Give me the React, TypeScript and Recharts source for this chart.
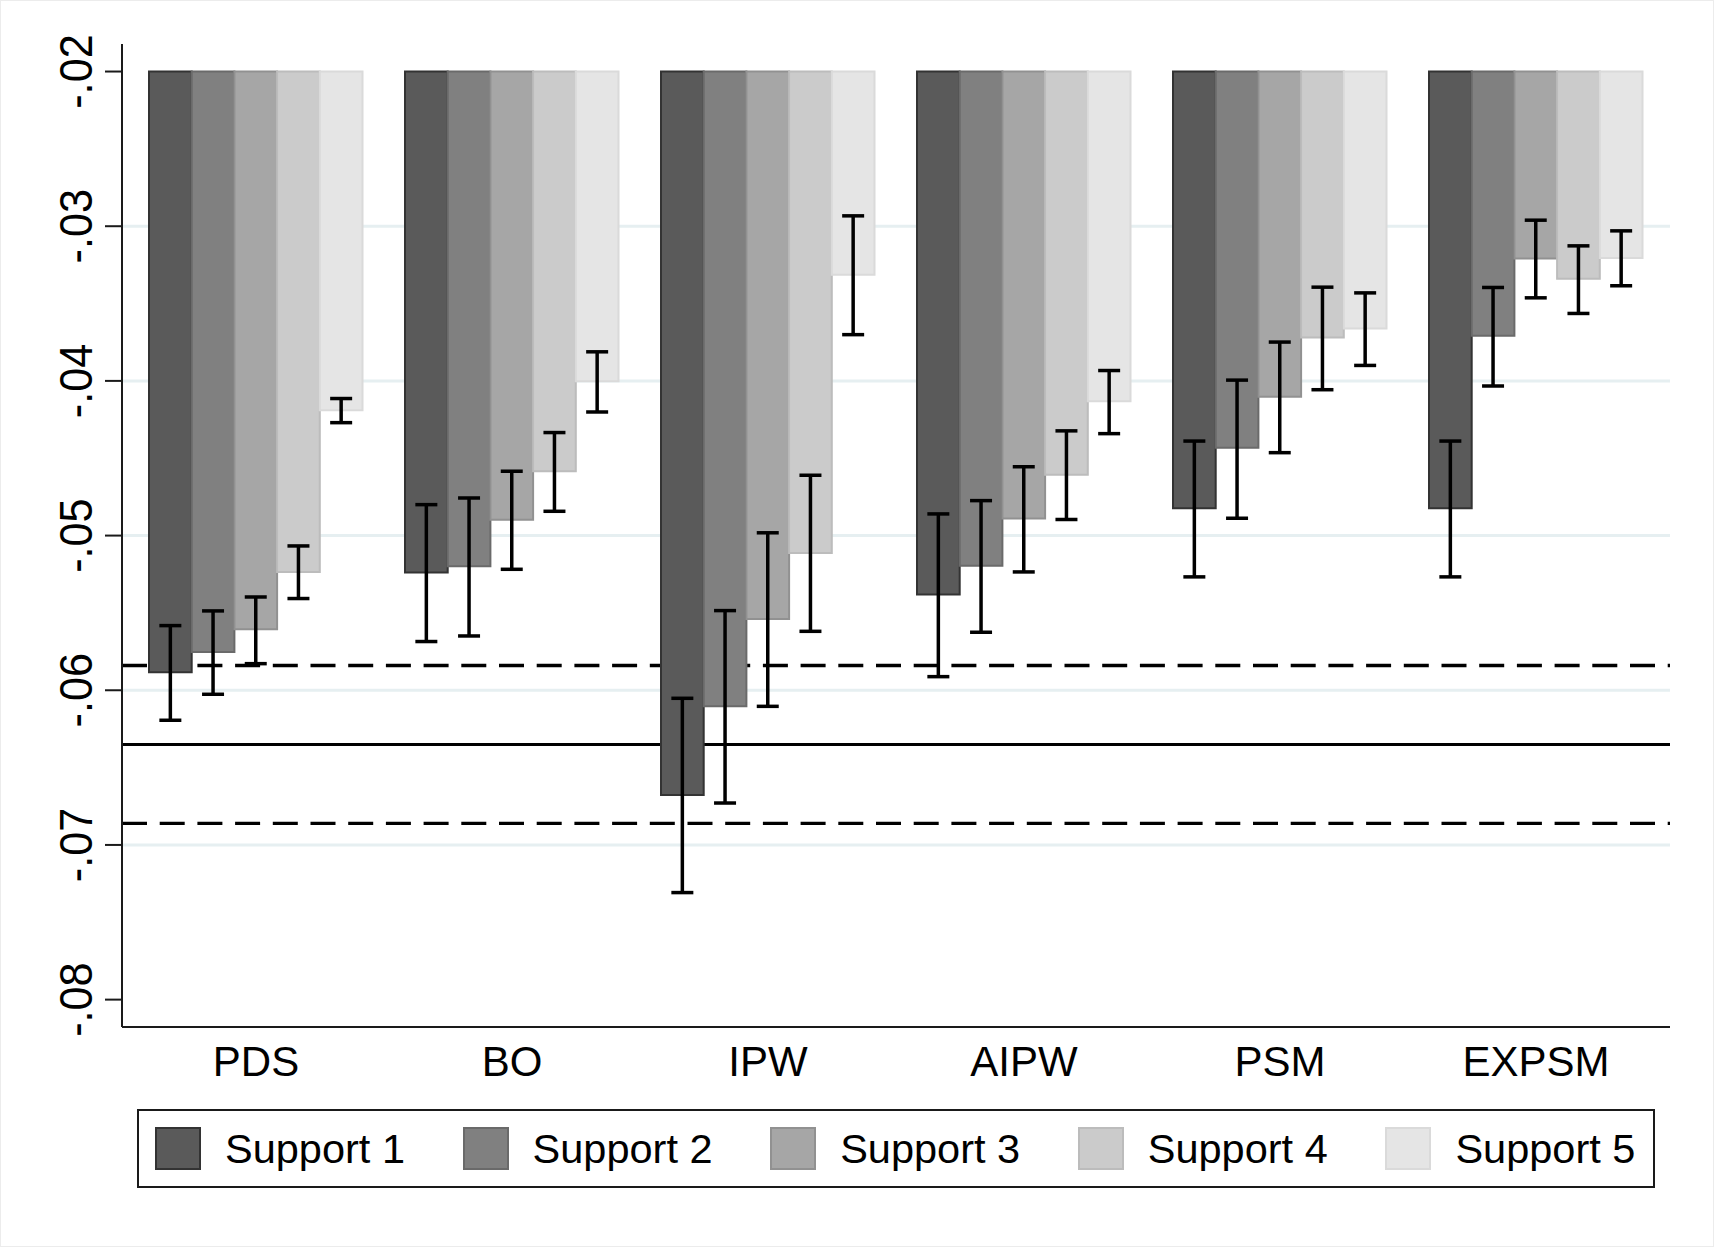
import React from 'react';
import { BarChart, Bar, XAxis, YAxis, ErrorBar, ReferenceLine } from 'recharts';

const categories = ['PDS', 'BO', 'IPW', 'AIPW', 'PSM', 'EXPSM'];
const seriesNames = ['Support 1', 'Support 2', 'Support 3', 'Support 4', 'Support 5'];

// point estimates per support level (bars hang from -.02)
const s1Mean = [-0.05884, -0.05239, -0.06677, -0.05381, -0.04824, -0.04824];
const s2Mean = [-0.05752, -0.05198, -0.06104, -0.05195, -0.04432, -0.03708];
const s3Mean = [-0.05606, -0.04897, -0.0554, -0.0489, -0.04102, -0.03209];
const s4Mean = [-0.05235, -0.04584, -0.05113, -0.04607, -0.03719, -0.0334];
const s5Mean = [-0.0419, -0.04003, -0.03314, -0.04131, -0.03661, -0.03205];

// confidence interval lower ends
const s1Lo = [-0.06194, -0.05685, -0.07308, -0.05912, -0.05267, -0.05267];
const s2Lo = [-0.06026, -0.05649, -0.06729, -0.05625, -0.04888, -0.04033];
const s3Lo = [-0.05828, -0.05218, -0.06104, -0.05235, -0.04464, -0.03463];
const s4Lo = [-0.05407, -0.04843, -0.05619, -0.04896, -0.04057, -0.03564];
const s5Lo = [-0.0427, -0.04201, -0.03701, -0.04341, -0.039, -0.03385];

// confidence interval upper ends
const s1Hi = [-0.05582, -0.048, -0.06052, -0.0486, -0.04389, -0.04389];
const s2Hi = [-0.05487, -0.04757, -0.05485, -0.04774, -0.03995, -0.03396];
const s3Hi = [-0.05397, -0.04584, -0.04982, -0.04555, -0.03749, -0.02961];
const s4Hi = [-0.05067, -0.04334, -0.0461, -0.04323, -0.03394, -0.03127];
const s5Hi = [-0.04114, -0.03812, -0.02933, -0.03933, -0.03431, -0.0303];

const barBase = -0.02;
const yTicks = [-0.02, -0.03, -0.04, -0.05, -0.06, -0.07, -0.08];
const yTickLabels = ['-.02', '-.03', '-.04', '-.05', '-.06', '-.07', '-.08'];
const gridValues = [-0.03, -0.04, -0.05, -0.06, -0.07];
const benchmark = -0.0635;
const benchmarkBand = [-0.0584, -0.0686];

const fills = ['#5a5a5a', '#808080', '#a6a6a6', '#cbcbcb', '#e5e5e5'];
const strokes = ['#333333', '#6a6a6a', '#919191', '#bcbcbc', '#dadada'];

const means = [s1Mean, s2Mean, s3Mean, s4Mean, s5Mean];
const los = [s1Lo, s2Lo, s3Lo, s4Lo, s5Lo];
const his = [s1Hi, s2Hi, s3Hi, s4Hi, s5Hi];

const data = categories.map((name, i) => {
  const row: any = { name };
  means.forEach((m, k) => {
    row['s' + k] = [barBase, m[i]];
    row['e' + k] = [m[i] - los[k][i], his[k][i] - m[i]];
  });
  return row;
});

const FONT = '"Liberation Sans", Arial, Helvetica, sans-serif';

const YTick = (props: any) => {
  const { x, y, payload } = props;
  const idx = yTicks.indexOf(payload.value);
  const label = idx >= 0 ? yTickLabels[idx] : String(payload.value);
  return (
    <text
      transform={`translate(${x - 13},${y}) rotate(-90) scale(0.92,1)`}
      textAnchor="middle"
      fontSize={47}
      fontFamily={FONT}
      fill="#000"
    >
      {label}
    </text>
  );
};

const XTick = (props: any) => {
  const { x, y, payload } = props;
  return (
    <text x={x} y={y + 49} textAnchor="middle" fontSize={42} fontFamily={FONT} fill="#000">
      {payload.value}
    </text>
  );
};

export default function App() {
  return (
    <div
      style={{
        position: 'absolute',
        left: 0,
        top: 0,
        width: 1714,
        height: 1247,
        background: '#fff',
        boxSizing: 'border-box',
        border: '1px solid #ececec',
      }}
    >
      <BarChart
        width={1712}
        height={1245}
        data={data}
        margin={{ top: 43, right: 43, bottom: 159, left: 0 }}
        barSize={42.7}
        barGap={0}
        style={{ position: 'absolute', left: 0, top: 0 }}
      >
        {gridValues.map((v) => (
          <ReferenceLine key={'g' + v} y={v} stroke="#e6eff1" strokeWidth={3} zIndex={-100} />
        ))}
        {benchmarkBand.map((v) => (
          <ReferenceLine
            key={'b' + v}
            y={v}
            stroke="#000"
            strokeWidth={3.3}
            strokeDasharray="25 12.7"
            zIndex={100}
          />
        ))}
        <ReferenceLine y={benchmark} stroke="#000" strokeWidth={3} zIndex={100} />
        <XAxis
          dataKey="name"
          height={60}
          padding={{ left: 6, right: 6 }}
          axisLine={{ stroke: '#1a1a1a', strokeWidth: 2 }}
          tickLine={false}
          tickSize={0}
          tickMargin={0}
          tick={<XTick />}
          interval={0}
        />
        <YAxis
          width={121}
          type="number"
          domain={[-0.08177, -0.01822]}
          allowDataOverflow
          ticks={yTicks}
          interval={0}
          axisLine={{ stroke: '#1a1a1a', strokeWidth: 2 }}
          tickLine={{ stroke: '#1a1a1a', strokeWidth: 2 }}
          tickSize={17}
          tickMargin={0}
          tick={<YTick />}
        />
        {seriesNames.map((n, k) => (
          <Bar
            key={n}
            dataKey={'s' + k}
            name={n}
            fill={fills[k]}
            stroke={strokes[k]}
            strokeWidth={2}
            isAnimationActive={false}
          >
            <ErrorBar
              dataKey={'e' + k}
              width={11}
              stroke="#000"
              strokeWidth={3.5}
              direction="y"
              isAnimationActive={false}
            />
          </Bar>
        ))}
      </BarChart>
      <div
        style={{
          position: 'absolute',
          left: 136,
          top: 1108,
          width: 1518,
          height: 79,
          boxSizing: 'border-box',
          border: '2px solid #1a1a1a',
          display: 'flex',
          alignItems: 'center',
          paddingLeft: 16,
          fontFamily: FONT,
          fontSize: 41.5,
          color: '#000',
        }}
      >
        {seriesNames.map((n, k) => (
          <div key={n} style={{ display: 'flex', alignItems: 'center', width: 307.6, flex: 'none' }}>
            <div
              style={{
                width: 46,
                height: 43,
                boxSizing: 'border-box',
                background: fills[k],
                border: `2px solid ${strokes[k]}`,
                marginRight: 24,
                flex: 'none',
              }}
            />
            <span style={{ whiteSpace: 'nowrap', lineHeight: 1 }}>{n}</span>
          </div>
        ))}
      </div>
    </div>
  );
}
